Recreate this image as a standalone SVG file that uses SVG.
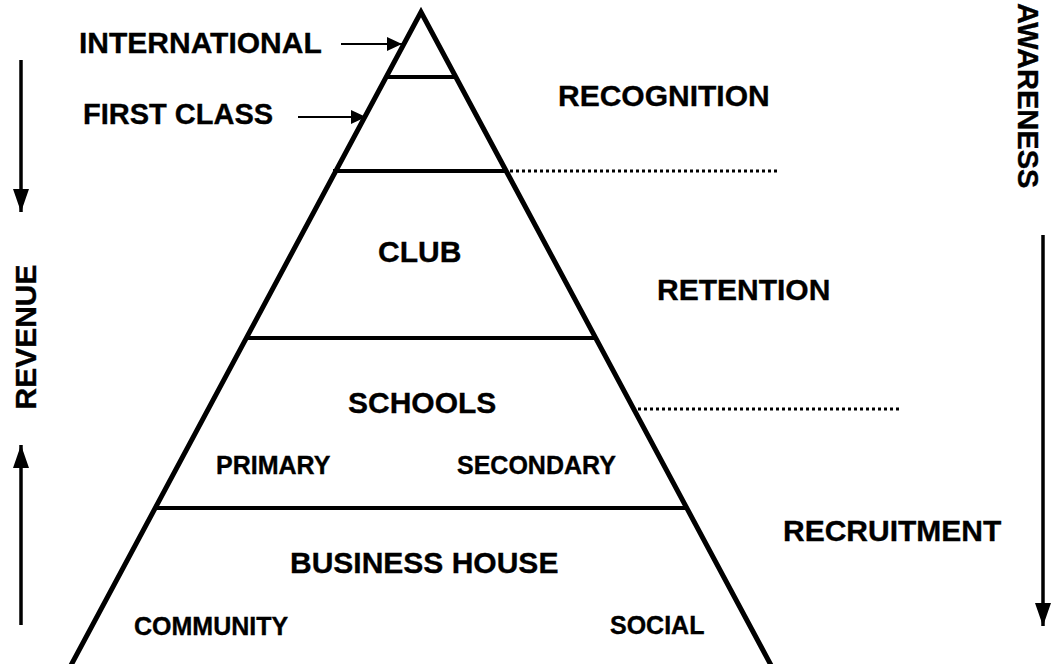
<svg xmlns="http://www.w3.org/2000/svg" width="1054" height="664" viewBox="0 0 1054 664">
<style>
text{font-family:"Liberation Sans",Arial,sans-serif;font-weight:bold;fill:#000;stroke:#000;stroke-width:0.35}
.big{font-size:30px}
.small{font-size:25px}
.band{stroke:#000;stroke-width:4;fill:none}
.dot{stroke:#000;stroke-width:3;stroke-dasharray:3 3;fill:none}
.arr{stroke:#000;stroke-width:2;fill:none}
.arrT{stroke:#000;stroke-width:3.5;fill:none}
</style>
<defs>
<marker id="ah" markerUnits="userSpaceOnUse" markerWidth="16" markerHeight="16" viewBox="0 0 16 16" refX="15" refY="8" orient="auto">
<path d="M0,1 L15,8 L0,15 Z" fill="#000"/>
</marker>
<marker id="ahB" markerUnits="userSpaceOnUse" markerWidth="24" markerHeight="20" viewBox="0 0 24 20" refX="23" refY="10" orient="auto">
<path d="M0,2 L23,10 L0,18 Z" fill="#000"/>
</marker>
</defs>
<rect width="1054" height="664" fill="#fff"/>
<g id="pyramid">
<polyline points="62,682 421,12 780,682" fill="none" stroke="#000" stroke-width="5" stroke-linejoin="miter"/>
<line class="band" x1="386" y1="77" x2="456" y2="77"/>
<line class="band" x1="333" y1="171" x2="508" y2="171"/>
<line class="band" x1="245" y1="338" x2="597" y2="338"/>
<line class="band" x1="154" y1="508" x2="688" y2="508"/>
</g>
<g id="connectors">
<line class="dot" x1="510" y1="171" x2="778" y2="171"/>
<line class="dot" x1="638" y1="409" x2="900" y2="409"/>
<line class="arr" x1="341" y1="44" x2="402" y2="44" marker-end="url(#ah)"/>
<line class="arr" x1="298" y1="117" x2="366" y2="117" marker-end="url(#ah)"/>
<line class="arrT" x1="21" y1="60" x2="21" y2="212" marker-end="url(#ahB)"/>
<line class="arrT" x1="21" y1="625" x2="21" y2="445" marker-end="url(#ahB)"/>
<line class="arrT" x1="1043" y1="235" x2="1043" y2="626" marker-end="url(#ahB)"/>
</g>
<g id="n-international"><text class="big" x="79" y="53">INTERNATIONAL</text></g>
<g id="n-firstclass"><text class="big" x="83" y="124" style="font-size:29px">FIRST CLASS</text></g>
<g id="n-recognition"><text class="big" x="558" y="106">RECOGNITION</text></g>
<g id="n-club"><text class="big" x="378" y="262">CLUB</text></g>
<g id="n-retention"><text class="big" x="657" y="300">RETENTION</text></g>
<g id="n-schools"><text class="big" x="348" y="413">SCHOOLS</text></g>
<g id="n-primary"><text class="small" x="216" y="474">PRIMARY</text></g>
<g id="n-secondary"><text class="small" x="457" y="474">SECONDARY</text></g>
<g id="n-business"><text class="big" x="290" y="573">BUSINESS HOUSE</text></g>
<g id="n-recruitment"><text class="big" x="783" y="541">RECRUITMENT</text></g>
<g id="n-community"><text class="small" x="134" y="635">COMMUNITY</text></g>
<g id="n-social"><text class="small" x="610" y="634">SOCIAL</text></g>
<g id="n-revenue"><text class="big" transform="translate(36,337) rotate(-90)" text-anchor="middle">REVENUE</text></g>
<g id="n-awareness"><text class="big" style="font-size:29px" transform="translate(1018,3) rotate(90)">AWARENESS</text></g>
</svg>
